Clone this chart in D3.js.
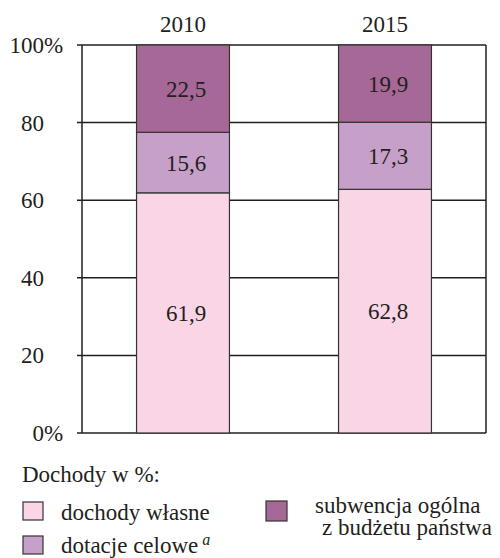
<!DOCTYPE html>
<html>
<head>
<meta charset="utf-8">
<script src="https://cdn.jsdelivr.net/npm/d3@7"></script>
<style>
  body { margin: 0; background: #fff; }
</style>
</head>
<body>
<div id="container"></div>
<script>
var years = ["2010", "2015"];
var seriesNames = ["dochody własne", "dotacje celowe", "subwencja ogólna"];
var dochodyWlasne = [61.9, 62.8];
var dotacjeCelowe = [15.6, 17.3];
var subwencja = [22.5, 19.9];
var valueLabels = [["61,9", "62,8"], ["15,6", "17,3"], ["22,5", "19,9"]];
var yTicks = [0, 20, 40, 60, 80, 100];
var yTickLabels = ["0", "20", "40", "60", "80", "100"];

var colors = ["#f9d5e6", "#c7a0c9", "#a66897"];

var FONT = "Liberation Serif, DejaVu Serif, serif";
var FS = 23;

var width = 500, height = 558;
var plotLeft = 82, plotRight = 486, plotTop = 45, plotBottom = 433;

var svg = d3.select("#container")
  .append("svg")
    .attr("width", width)
    .attr("height", height)
    .attr("font-family", FONT)
    .attr("fill", "#231f20");

var x = d3.scaleBand().domain(years).range([plotLeft, plotRight]).paddingInner(0.54).paddingOuter(0.27);
var y = d3.scaleLinear().domain([0, 100]).range([plotBottom, plotTop]);

// gridlines + ticks
svg.selectAll(".grid")
    .data(yTicks)
  .enter().append("line")
    .attr("class", "grid")
    .attr("x1", plotLeft - 5)
    .attr("x2", plotRight)
    .attr("y1", function(d) { return y(d); })
    .attr("y2", function(d) { return y(d); })
    .attr("stroke", "#231f20")
    .attr("stroke-width", 1.5);

// frame sides
[plotLeft, plotRight].forEach(function(px) {
  svg.append("line")
    .attr("x1", px).attr("x2", px)
    .attr("y1", y(100)).attr("y2", y(0))
    .attr("stroke", "#231f20")
    .attr("stroke-width", 1.5);
});

// tick labels, % hangs to the right of the digits
yTicks.forEach(function(d, i) {
  svg.append("text")
    .attr("x", 44)
    .attr("y", y(d) + 8)
    .attr("font-size", FS)
    .attr("text-anchor", "end")
    .text(yTickLabels[i]);
  if (d === 0 || d === 100) {
    svg.append("text")
      .attr("x", 44)
      .attr("y", y(d) + 8)
      .attr("font-size", FS)
      .text("%");
  }
});

// stack the segments
var stacked = [dochodyWlasne, dotacjeCelowe, subwencja];
years.forEach(function(yr, j) {
  var base = 0;
  stacked.forEach(function(series, k) {
    var v = series[j];
    svg.append("rect")
      .attr("x", x(yr))
      .attr("width", x.bandwidth())
      .attr("y", y(base + v))
      .attr("height", y(base) - y(base + v))
      .attr("fill", colors[k])
      .attr("stroke", "#333")
      .attr("stroke-width", 1.2);
    svg.append("text")
      .attr("x", x(yr) + x.bandwidth() / 2 + 3)
      .attr("y", y(base + v / 2) + 8)
      .attr("text-anchor", "middle")
      .attr("font-size", FS)
      .text(valueLabels[k][j]);
    base += v;
  });

  svg.append("text")
    .attr("x", x(yr) + x.bandwidth() / 2)
    .attr("y", 32)
    .attr("text-anchor", "middle")
    .attr("font-size", FS)
    .text(yr);
});

// legend
svg.append("text")
  .attr("x", 22).attr("y", 482)
  .attr("font-size", FS)
  .text("Dochody w %:");

var legendItems = [
  { k: 0, sx: 23, sy: 502, sw: 20, sh: 18, tx: 61, lines: ["dochody własne"], ty: [520] },
  { k: 1, sx: 23, sy: 536, sw: 20, sh: 18, tx: 61, lines: ["dotacje celowe"], ty: [553], sup: true },
  { k: 2, sx: 266, sy: 501, sw: 21, sh: 20, tx: 315, lines: ["subwencja ogólna", "z budżetu państwa"], ty: [513, 535] }
];

legendItems.forEach(function(it) {
  svg.append("rect")
    .attr("x", it.sx).attr("y", it.sy)
    .attr("width", it.sw).attr("height", it.sh)
    .attr("fill", colors[it.k])
    .attr("stroke", "#333")
    .attr("stroke-width", 1.2);
  it.lines.forEach(function(line, i) {
    var t = svg.append("text")
      .attr("x", it.tx + (i > 0 ? 7 : 0))
      .attr("y", it.ty[i])
      .attr("font-size", FS)
      .text(line);
    if (it.sup) {
      t.append("tspan")
        .attr("dx", 4)
        .attr("dy", -8)
        .attr("font-size", 16)
        .attr("font-style", "italic")
        .text("a");
    }
  });
});
</script>
</body>
</html>
